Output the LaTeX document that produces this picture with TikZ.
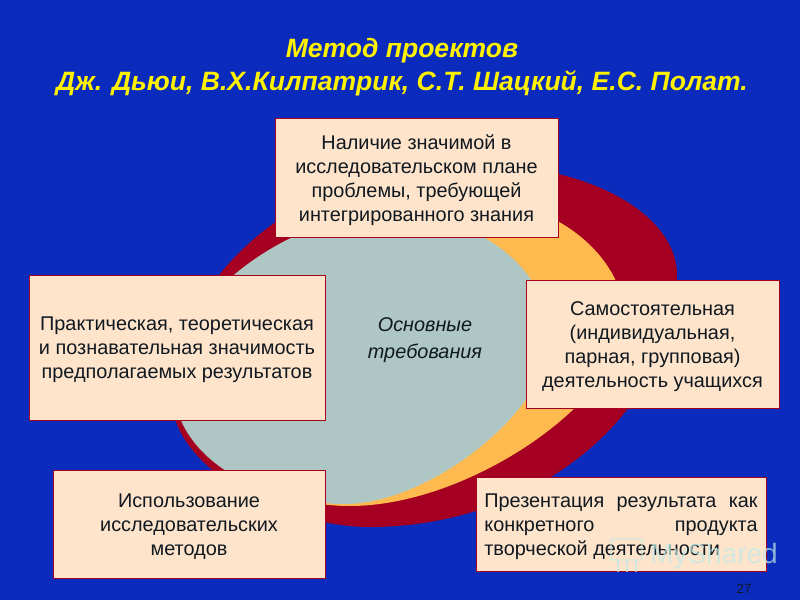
\documentclass[tikz,border=0pt]{standalone}
\usepackage{fontspec}
\setmainfont{Liberation Sans}
\definecolor{bgblue}{HTML}{0A2BBB}
\definecolor{ringred}{HTML}{A50021}
\definecolor{ringorange}{HTML}{FFBA4F}
\definecolor{coregray}{HTML}{AEC7C5}
\definecolor{boxfill}{HTML}{FFE4CC}
\definecolor{inkdark}{HTML}{101820}
\definecolor{markpale}{HTML}{BFEBE6}
\tikzset{
  txt/.style={font=\fontsize{14.9pt}{18pt}\selectfont,text=inkdark,align=center,inner sep=0pt},
  boxtxt/.style={txt,yshift=-2pt},
  infobox/.style={draw=ringred,line width=.7pt,fill=boxfill,inner sep=0pt,outer sep=0pt},
  titletext/.style={font=\fontsize{19.9pt}{24.75pt}\selectfont\bfseries\itshape,text=yellow,align=center},
  markline/.style={markpale,opacity=.7,line width=1pt}
}
\begin{document}
\begin{tikzpicture}[x=.75pt,y=-.75pt]
\useasboundingbox (0,0) rectangle (800,600);
\fill[bgblue] (0,0) rectangle (800,600);
\fill[ringred] (677,275) .. controls (677,215) and (590,165) .. (480,165)
  .. controls (330,150) and (172,265) .. (172,400)
  .. controls (172,465) and (280,527) .. (370,527)
  .. controls (530,527) and (672,420) .. (677,275) -- cycle;
\fill[ringorange] (625,320) .. controls (625,260) and (560,200) .. (470,198)
  .. controls (320,192) and (172,290) .. (172,380)
  .. controls (172,450) and (260,506) .. (350,506)
  .. controls (470,506) and (622,400) .. (625,320) -- cycle;
\fill[coregray] (550,340) .. controls (550,270) and (480,215) .. (395,215)
  .. controls (300,208) and (174,295) .. (174,382)
  .. controls (170,450) and (250,504) .. (345,504)
  .. controls (430,504) and (548,410) .. (550,340) -- cycle;
\node[titletext] (title) at (402,67) {Метод проектов\\Дж. Дьюи, В.Х.Килпатрик, С.Т. Шацкий, Е.С. Полат.};
\node[txt,font=\fontsize{14.9pt}{20.25pt}\selectfont\itshape] (core) at (425,340) {Основные\\требования};
\node[infobox,minimum width=212.25pt,minimum height=89.25pt] (need) at (416.5,177.5) {};
\node[boxtxt] (needtext) at (need) {Наличие значимой в\\исследовательском плане\\проблемы, требующей\\интегрированного знания};
\node[infobox,minimum width=222pt,minimum height=108.75pt] (value) at (177,347.5) {};
\node[boxtxt] (valuetext) at (value) {Практическая, теоретическая\\и познавательная значимость\\предполагаемых результатов};
\node[infobox,minimum width=189.75pt,minimum height=96pt] (self) at (652.5,344) {};
\node[boxtxt] (selftext) at (self) {Самостоятельная\\(индивидуальная,\\парная, групповая)\\деятельность учащихся};
\node[infobox,minimum width=204pt,minimum height=81pt] (methods) at (189,524) {};
\node[boxtxt] (methodstext) at (methods) {Использование\\исследовательских\\методов};
\node[infobox,minimum width=217.5pt,minimum height=70.5pt] (present) at (621,524) {};
\node[boxtxt,align=left] (presenttext) at (present) {\makebox[205pt][s]{Презентация результата как}\\\makebox[205pt][s]{конкретного продукта}\\творческой деятельности};
\node[text=inkdark,font=\fontsize{10pt}{12pt}\selectfont] (page) at (744,589) {27};
\node[text=markpale,opacity=.7,font=\fontsize{21pt}{24pt}\selectfont] (mark) at (714,556) {MyShared};
\draw[markline,rounded corners=1pt] (611,539) rectangle (642,560);
\draw[markline] (618,560) -- (618,572) (627,560) -- (627,572) (636,560) -- (636,572);
\end{tikzpicture}
\end{document}
